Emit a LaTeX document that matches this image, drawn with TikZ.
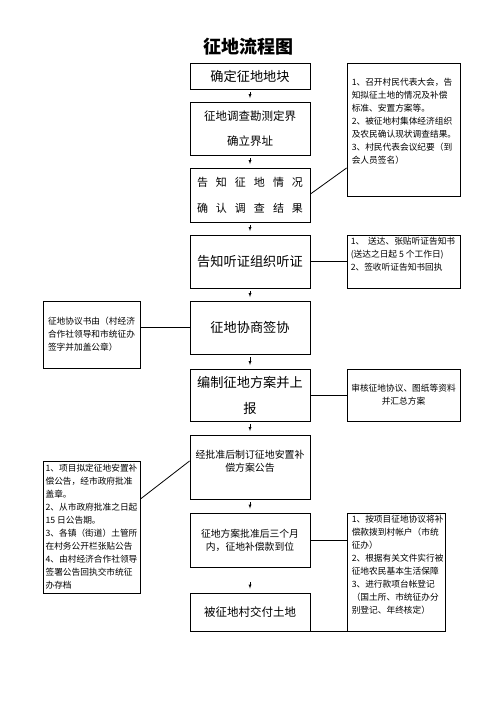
\documentclass[tikz,border=0pt]{standalone}
\usepackage{fontspec}
\newfontfamily\cjk{Noto Sans CJK SC}
\newcommand\lsp{\hspace{8pt}}

\begin{document}
\begin{tikzpicture}[x=1pt,y=-1pt,
    mainbox/.style={draw,line width=0.9pt,minimum width=120pt,align=center,inner sep=0pt},
    sidebox/.style={draw,line width=0.9pt,inner sep=0pt},
    sidetext/.style={font=\cjk\fontsize{8.7}{13}\selectfont,align=left,inner sep=0pt},
    downarrow/.style={-latex,line width=0.4pt},
    link/.style={line width=0.8pt}]
  \useasboundingbox (0,0) rectangle (496,702);

  \node[font=\cjk\bfseries\fontsize{18}{18}\selectfont] (title) at (248,47) {征地流程图};

  % main column
  \node[mainbox,minimum height=26pt,font=\cjk\fontsize{13.2}{26}\selectfont] (b1) at (250,76) {确定征地地块};
  \node[mainbox,minimum height=53pt,font=\cjk\fontsize{11.5}{25}\selectfont] (b2) at (250,128.5) {征地调查勘测定界\\确立界址};
  \node[mainbox,minimum height=54pt,font=\cjk\fontsize{11}{26}\selectfont] (b3) at (250,195)
    {告\lsp 知\lsp 征\lsp 地\lsp 情\lsp 况\\确\lsp 认\lsp 调\lsp 查\lsp 结\lsp 果};
  \node[mainbox,minimum height=53pt,font=\cjk\fontsize{13.2}{26}\selectfont] (b4) at (250,261.5) {告知听证组织听证};
  \node[mainbox,minimum height=53pt,font=\cjk\fontsize{13.2}{26}\selectfont] (b5) at (250,327.5) {征地协商签协};
  \node[mainbox,minimum height=52pt,font=\cjk\fontsize{13.2}{26}\selectfont] (b6) at (250,395) {编制征地方案并上\\报};
  \node[mainbox,minimum height=64pt,font=\cjk\fontsize{9.9}{13}\selectfont] (b7) at (250,467) {经批准后制订征地安置补\\偿方案公告\\\mbox{}};
  \node[mainbox,minimum height=54pt,font=\cjk\fontsize{9.8}{13}\selectfont] (b8) at (250,540) {征地方案批准后三个月\\内，征地补偿款到位};
  \node[mainbox,minimum height=38pt,font=\cjk\fontsize{11.5}{13}\selectfont] (b9) at (250,612) {被征地村交付土地};

  \draw[downarrow] ([yshift=-3pt]b1.south) -- ([yshift=3.5pt]b2.north);
  \draw[downarrow] ([yshift=-3pt]b2.south) -- ([yshift=3.5pt]b3.north);
  \draw[downarrow] ([yshift=-3pt]b3.south) -- ([yshift=3.5pt]b4.north);
  \draw[downarrow] ([yshift=-3pt]b4.south) -- ([yshift=3.5pt]b5.north);
  \draw[downarrow] ([yshift=-3pt]b5.south) -- ([yshift=3.5pt]b6.north);
  \draw[downarrow] ([yshift=-3pt]b6.south) -- ([yshift=3.5pt]b7.north);
  \draw[downarrow] ([yshift=-3pt]b7.south) -- ([yshift=4pt]b8.north);
  \draw[downarrow] ([yshift=-15pt]b8.south) -- ([yshift=4pt]b9.north);

  % notes on the right
  \node[sidebox,minimum width=113pt,minimum height=133pt] (r1) at (403.5,129.5) {};
  \node[sidetext,anchor=north west] (r1t) at ([xshift=5pt,yshift=-15pt]r1.north west)
    {1、召开村民代表大会，告\\知拟征土地的情况及补偿\\标准、安置方案等。\\2、被征地村集体经济组织\\及农民确认现状调查结果。\\3、村民代表会议纪要（到\\会人员签名）};
  \node[sidebox,minimum width=113pt,minimum height=53pt] (r2) at (403.5,261.5) {};
  \node[sidetext,anchor=north west] (r2t) at ([xshift=4pt,yshift=-2pt]r2.north west)
    {1、\ \ 送达、张贴听证告知书\\(送达之日起 5 个工作日)\\2、签收听证告知书回执};
  \node[sidebox,sidetext,align=center,minimum width=113pt,minimum height=52pt] (r3) at (403.5,395)
    {审核征地协议、图纸等资料\\并汇总方案};
  \node[sidebox,minimum width=98pt,minimum height=118pt] (r4) at (396,572) {};
  \node[sidetext,anchor=north west] (r4t) at ([xshift=5pt,yshift=-2pt]r4.north west)
    {1、按项目征地协议将补\\偿款拨到村帐户（市统\\征办）\\2、根据有关文件实行被\\征地农民基本生活保障\\3、进行款项台帐登记\\（国土所、市统征办分\\别登记、年终核定）};

  % notes on the left
  \node[sidebox,sidetext,minimum width=97pt,minimum height=67pt] (l1) at (91.5,334.5)
    {征地协议书由（村经济\\合作社领导和市统征办\\签字并加盖公章）};
  \node[sidebox,sidetext,minimum width=97pt,minimum height=132pt] (l2) at (91.5,527)
    {1、项目拟定征地安置补\\偿公告，经市政府批准\\盖章。\\2、从市政府批准之日起\\15 日公告期。\\3、各镇（街道）土管所\\在村务公开栏张贴公告\\4、由村经济合作社领导\\签署公告回执交市统征\\办存档};

  % links
  \draw[link] ([yshift=1pt]b3.east) -- ([yshift=-38.5pt]r1.west);
  \draw[link] (b4.east) -- (r2.west);
  \draw[link] (b5.west) -- (b5.west -| l1.east);
  \draw[link] (b6.east) -- (r3.west);
  \draw[link] ([yshift=28pt]l2.east) -- ([yshift=6pt]b7.west);
  \draw[link] (b8.east) -- (b8.east -| r4.west);
  \draw[link] (b9.south east) -- (r4.south west);
\end{tikzpicture}
\end{document}
